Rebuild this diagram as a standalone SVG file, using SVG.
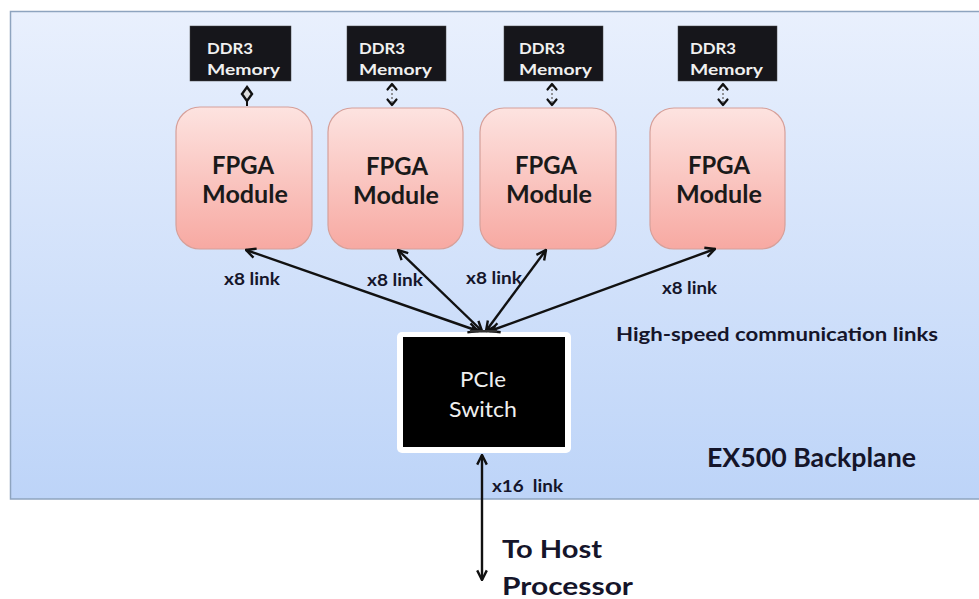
<svg xmlns="http://www.w3.org/2000/svg" width="979" height="599" viewBox="0 0 979 599">
  <defs>
    <linearGradient id="bpGrad" x1="0" y1="0" x2="0" y2="1">
      <stop offset="0" stop-color="#e9f0fd"/>
      <stop offset="1" stop-color="#bdd4f8"/>
    </linearGradient>
    <linearGradient id="fpgaGrad" x1="0" y1="0" x2="0" y2="1">
      <stop offset="0" stop-color="#fde3e0"/>
      <stop offset="1" stop-color="#f7a9a2"/>
    </linearGradient>
    <marker id="arr" viewBox="0 0 10 10" refX="9" refY="5" markerWidth="5" markerHeight="5" markerUnits="strokeWidth" orient="auto-start-reverse">
      <path d="M1,1 L9,5 L1,9" fill="none" stroke="#111" stroke-width="2"/>
    </marker>
  </defs>
  <style>
    .bp { fill: url(#bpGrad); stroke: #8ea4bf; stroke-width: 1.5; }
    .ddr { fill: #16161b; stroke: #444; stroke-width: 0.5; }
    .ddrT { font-family: Lato, "Liberation Sans", sans-serif; font-weight: bold; font-size: 15.5px; fill: #f0f0f0; }
    .fpga { fill: url(#fpgaGrad); stroke: #d6a09a; stroke-width: 1.2; }
    .fpgaT { font-family: Lato, "Liberation Sans", sans-serif; font-weight: bold; font-size: 24px; fill: #1a1a1a; text-anchor: middle; }
    .lbl { font-family: Lato, "Liberation Sans", sans-serif; font-weight: bold; fill: #15152a; }
    .sw { font-family: Lato, "Liberation Sans", sans-serif; font-size: 21px; fill: #efefef; text-anchor: middle; }
    .link { stroke: #111; stroke-width: 2.4; fill: none; marker-start: url(#arr); marker-end: url(#arr); }
    .memShaft { stroke: #777; stroke-width: 1.5; stroke-dasharray: 2 2; fill: none; }
    .memHead { stroke: #111; stroke-width: 2.2; fill: none; stroke-linecap: round; stroke-linejoin: round; }
  </style>

  <g id="backplane">
    <rect class="bp" x="10.5" y="11.5" width="980" height="487.5"/>
    <text class="lbl" x="707" y="467" font-size="26" textLength="209" lengthAdjust="spacingAndGlyphs">EX500 Backplane</text>
    <text class="lbl" x="616" y="341" font-size="18" textLength="322" lengthAdjust="spacingAndGlyphs">High-speed communication links</text>
  </g>

  <g id="ddr1">
    <rect class="ddr" x="190" y="26" width="101" height="55"/>
    <text class="ddrT" x="207" y="54" textLength="46" lengthAdjust="spacingAndGlyphs">DDR3</text>
    <text class="ddrT" x="207" y="75" textLength="73" lengthAdjust="spacingAndGlyphs">Memory</text>
  </g>
  <g id="ddr2">
    <rect class="ddr" x="347" y="26" width="99" height="55"/>
    <text class="ddrT" x="359" y="54" textLength="46" lengthAdjust="spacingAndGlyphs">DDR3</text>
    <text class="ddrT" x="359" y="75" textLength="73" lengthAdjust="spacingAndGlyphs">Memory</text>
  </g>
  <g id="ddr3">
    <rect class="ddr" x="504" y="26" width="99" height="55"/>
    <text class="ddrT" x="519" y="54" textLength="46" lengthAdjust="spacingAndGlyphs">DDR3</text>
    <text class="ddrT" x="519" y="75" textLength="73" lengthAdjust="spacingAndGlyphs">Memory</text>
  </g>
  <g id="ddr4">
    <rect class="ddr" x="678" y="26" width="99" height="55"/>
    <text class="ddrT" x="690" y="54" textLength="46" lengthAdjust="spacingAndGlyphs">DDR3</text>
    <text class="ddrT" x="690" y="75" textLength="73" lengthAdjust="spacingAndGlyphs">Memory</text>
  </g>

  <g id="fpga1">
    <rect class="fpga" x="176" y="107" width="136" height="142" rx="24"/>
    <text class="fpgaT" x="243" y="174" textLength="62" lengthAdjust="spacingAndGlyphs">FPGA</text>
    <text class="fpgaT" x="245" y="203" textLength="86" lengthAdjust="spacingAndGlyphs">Module</text>
  </g>
  <g id="fpga2">
    <rect class="fpga" x="328" y="108" width="135" height="141" rx="24"/>
    <text class="fpgaT" x="397" y="175" textLength="62" lengthAdjust="spacingAndGlyphs">FPGA</text>
    <text class="fpgaT" x="396" y="204" textLength="86" lengthAdjust="spacingAndGlyphs">Module</text>
  </g>
  <g id="fpga3">
    <rect class="fpga" x="480" y="108" width="136" height="141" rx="24"/>
    <text class="fpgaT" x="546" y="174" textLength="62" lengthAdjust="spacingAndGlyphs">FPGA</text>
    <text class="fpgaT" x="549" y="203" textLength="86" lengthAdjust="spacingAndGlyphs">Module</text>
  </g>
  <g id="fpga4">
    <rect class="fpga" x="650" y="108" width="135" height="141" rx="24"/>
    <text class="fpgaT" x="719" y="174" textLength="62" lengthAdjust="spacingAndGlyphs">FPGA</text>
    <text class="fpgaT" x="719" y="203" textLength="86" lengthAdjust="spacingAndGlyphs">Module</text>
  </g>

  <g id="pcie-switch">
    <rect x="397" y="332" width="174" height="121" rx="5" fill="#ffffff"/>
    <rect x="403" y="337" width="162" height="110" fill="#000000"/>
    <text class="sw" x="483" y="387" textLength="46" lengthAdjust="spacingAndGlyphs">PCIe</text>
    <text class="sw" x="483" y="417" textLength="68" lengthAdjust="spacingAndGlyphs">Switch</text>
  </g>

  <g id="host-label">
    <text class="lbl" x="502" y="558" font-size="25" textLength="100" lengthAdjust="spacingAndGlyphs">To Host</text>
    <text class="lbl" x="502" y="595" font-size="25" textLength="131" lengthAdjust="spacingAndGlyphs">Processor</text>
  </g>

  <g id="connectors">
    <line class="link" x1="478" y1="331" x2="246" y2="250"/>
    <line class="link" x1="482" y1="331" x2="398" y2="250"/>
    <line class="link" x1="486" y1="331" x2="546" y2="250"/>
    <line class="link" x1="490" y1="331" x2="715" y2="249"/>
    <line class="link" x1="482" y1="455" x2="482" y2="580"/>
    <line class="memShaft" x1="392" y1="85" x2="392" y2="104"/>
    <path class="memHead" d="M387.5,89.5 L392,84 L396.5,89.5 M387.5,99.5 L392,105 L396.5,99.5"/>
    <line class="memShaft" x1="552" y1="85" x2="552" y2="104"/>
    <path class="memHead" d="M547.5,89.5 L552,84 L556.5,89.5 M547.5,99.5 L552,105 L556.5,99.5"/>
    <line class="memShaft" x1="723" y1="85" x2="723" y2="104"/>
    <path class="memHead" d="M718.5,89.5 L723,84 L727.5,89.5 M718.5,99.5 L723,105 L727.5,99.5"/>
    <polygon points="247,87 252,94 247,101 242,94" fill="#ddd" stroke="#111" stroke-width="2.4"/>
    <line x1="247" y1="101" x2="247" y2="106" stroke="#111" stroke-width="2"/>
    <rect x="470" y="330" width="27" height="2.5" fill="#333"/>
    <text class="lbl" x="224" y="285" font-size="17" textLength="56" lengthAdjust="spacingAndGlyphs">x8 link</text>
    <text class="lbl" x="367" y="286" font-size="17" textLength="56" lengthAdjust="spacingAndGlyphs">x8 link</text>
    <text class="lbl" x="466" y="284" font-size="17" textLength="56" lengthAdjust="spacingAndGlyphs">x8 link</text>
    <text class="lbl" x="662" y="294" font-size="17" textLength="55" lengthAdjust="spacingAndGlyphs">x8 link</text>
    <text class="lbl" x="492" y="492" font-size="17" textLength="71" lengthAdjust="spacingAndGlyphs" xml:space="preserve">x16  link</text>
  </g>
</svg>
